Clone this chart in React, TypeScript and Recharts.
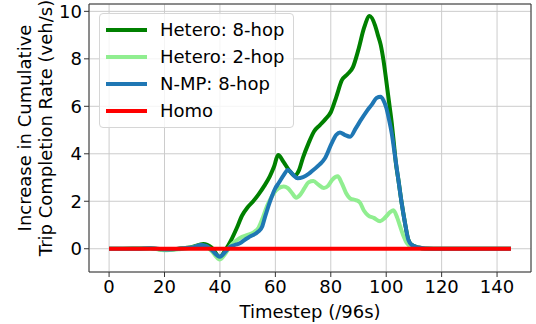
import React from 'react';
import {
  LineChart,
  Line,
  XAxis,
  YAxis,
  CartesianGrid,
  Legend,
  ReferenceLine,
} from 'recharts';

const FONT = '"DejaVu Sans", sans-serif';

// Hetero: 8-hop
const hetero8Steps = [0, 5, 10, 15, 20, 25, 30, 34, 37, 40, 42, 44, 46, 48, 50, 52, 54, 56, 58, 59.5, 61, 63, 65, 67, 68.5, 70, 72, 74, 76, 78, 80, 82, 84, 86, 88, 90, 92, 94, 96, 97, 98, 99, 100, 101, 102, 102.8, 103.5, 104.4, 105.6, 106.8, 108, 109.2, 111.6, 114, 120, 130, 145];
const hetero8Values = [0, 0, 0.01, 0.02, -0.05, 0, 0.08, 0.2, 0.05, -0.35, -0.05, 0.35, 0.85, 1.4, 1.75, 2.0, 2.3, 2.65, 3.05, 3.45, 3.95, 3.65, 3.3, 3.08, 3.3, 3.85, 4.45, 4.95, 5.2, 5.45, 5.75, 6.4, 7.1, 7.35, 7.65, 8.4, 9.3, 9.8, 9.4, 9.0, 8.6, 7.95, 7.1, 6.2, 5.3, 4.4, 3.6, 2.9, 1.91, 1.07, 0.37, 0.16, 0.05, 0.01, 0, 0, 0];

// Hetero: 2-hop
const hetero2Steps = [0, 10, 15, 20, 25, 30, 33, 35, 37, 40, 42, 44, 46, 48, 50, 52, 54, 55.6, 57, 58, 59.5, 61.1, 63, 64.5, 66, 67.5, 69, 70.5, 72, 73.7, 75.5, 77.5, 79, 80.5, 82.5, 84, 85.5, 87, 89, 90.5, 92, 93.5, 95.5, 97.8, 99.5, 101.5, 102.6, 104, 105, 106.2, 107.4, 109, 111.6, 114, 120, 145];
const hetero2Values = [0, 0, 0.02, -0.06, -0.02, 0.05, 0.14, 0.1, -0.1, -0.45, -0.2, 0.15, 0.35, 0.5, 0.58, 0.68, 0.9, 1.35, 1.8, 2.05, 2.35, 2.54, 2.62, 2.55, 2.35, 2.15, 2.28, 2.55, 2.8, 2.85, 2.7, 2.56, 2.65, 2.9, 3.05, 2.75, 2.35, 2.12, 2.05, 1.95, 1.6, 1.4, 1.3, 1.16, 1.3, 1.55, 1.62, 1.3, 0.95, 0.55, 0.25, 0.1, 0.04, 0.01, 0, 0];

// N-MP: 8-hop
const nmpSteps = [0, 10, 15, 20, 25, 30, 33, 35, 37, 40, 42, 43.6, 46, 47.2, 49, 50.8, 53.8, 55.3, 56.3, 57.5, 58.7, 60, 61.1, 63, 64.5, 66.5, 68, 70, 72, 73.7, 76, 77.9, 80.3, 82, 83.3, 85, 87, 89, 91, 93, 95, 96.5, 98, 99, 100, 101, 102, 103.2, 104.4, 105.6, 106.8, 108, 109.2, 111.6, 114, 120, 145];
const nmpValues = [0, 0, 0.02, -0.03, 0, 0.05, 0.16, 0.12, -0.05, -0.34, -0.12, 0.08, 0.18, 0.23, 0.38, 0.51, 0.72, 0.95, 1.35, 1.8, 2.19, 2.55, 2.75, 3.1, 3.32, 3.1, 2.97, 3.02, 3.15, 3.32, 3.55, 3.81, 4.44, 4.8, 4.9, 4.8, 4.72, 5.07, 5.45, 5.8, 6.1, 6.35, 6.4, 6.25, 5.95, 5.45, 4.86, 3.88, 2.89, 1.91, 1.07, 0.37, 0.16, 0.05, 0.01, 0, 0];

// Homo
const homoSteps = [0, 145];
const homoValues = [0, 0];

const xTicks = [0, 20, 40, 60, 80, 100, 120, 140];
const yTicks = [0, 2, 4, 6, 8, 10];
const X_DOMAIN: [number, number] = [-7.25, 152.25];
const Y_DOMAIN: [number, number] = [-0.98, 10.31];

const toPoints = (steps: number[], values: number[]) =>
  steps.map((t, i) => ({ t, v: values[i] }));

const series = [
  { name: 'Hetero: 8-hop', color: '#008000', data: toPoints(hetero8Steps, hetero8Values) },
  { name: 'Hetero: 2-hop', color: '#90ee90', data: toPoints(hetero2Steps, hetero2Values) },
  { name: 'N-MP: 8-hop', color: '#1f77b4', data: toPoints(nmpSteps, nmpValues) },
  { name: 'Homo', color: '#ff0000', data: toPoints(homoSteps, homoValues) },
];

const LegendBox = () => (
  <div
    style={{
      width: 193,
      height: 113,
      border: '1px solid #d6d6d6',
      borderRadius: 4,
      background: 'rgba(255,255,255,0.8)',
      fontFamily: FONT,
      fontSize: 18,
      color: '#000',
      position: 'relative',
    }}
  >
    {series.map((s, i) => (
      <div
        key={s.name}
        style={{ position: 'absolute', left: 0, top: 16 + i * 27 - 11, height: 22, display: 'flex', alignItems: 'center', whiteSpace: 'nowrap' }}
      >
        <div style={{ marginLeft: 6, width: 41, height: 4, background: s.color }} />
        <span style={{ marginLeft: 13, lineHeight: '22px' }}>{s.name}</span>
      </div>
    ))}
  </div>
);

const YTitle = () => (
  <g fontFamily={FONT} fontSize={18} fill="#000">
    <text x={24} y={128} transform="rotate(-90, 24, 128)" textAnchor="middle" dominantBaseline="central">
      Increase in Cumulative
    </text>
    <text x={45} y={128} transform="rotate(-90, 45, 128)" textAnchor="middle" dominantBaseline="central">
      Trip Completion Rate (veh/s)
    </text>
  </g>
);

const App: React.FC = () => {
  const tickStyle = { fontSize: 18, fill: '#000', fontFamily: FONT };
  return (
    <div style={{ position: 'absolute', left: 0, top: 0, background: '#fff' }}>
      <LineChart width={536} height={324} margin={{ top: 4, right: 5, left: 0, bottom: 0 }}>
        <CartesianGrid stroke="#cccccc" strokeWidth={1} />
        <XAxis
          type="number"
          dataKey="t"
          domain={X_DOMAIN}
          ticks={xTicks}
          allowDataOverflow
          height={52}
          tick={tickStyle}
          tickSize={5}
          tickMargin={3}
          stroke="#333"
          label={{ value: 'Timestep (/96s)', position: 'insideBottom', offset: 6, style: { fontSize: 18, fill: '#000', fontFamily: FONT } }}
        />
        <YAxis
          type="number"
          dataKey="v"
          domain={Y_DOMAIN}
          ticks={yTicks}
          allowDataOverflow
          width={89}
          tick={tickStyle}
          tickSize={5}
          tickMargin={2}
          stroke="#333"
          label={<YTitle />}
        />
        <ReferenceLine y={Y_DOMAIN[1]} stroke="#333" />
        <ReferenceLine x={X_DOMAIN[1]} stroke="#333" />
        {series.map(s => (
          <Line
            key={s.name}
            data={s.data}
            dataKey="v"
            name={s.name}
            type="monotone"
            stroke={s.color}
            strokeWidth={4}
            dot={false}
            activeDot={false}
            isAnimationActive={false}
          />
        ))}
        <Legend
          layout="vertical"
          align="center"
          verticalAlign="middle"
          wrapperStyle={{ position: 'absolute', left: 99, top: 13, width: 195, height: 115 }}
          content={<LegendBox />}
        />
      </LineChart>
    </div>
  );
};

export default App;
